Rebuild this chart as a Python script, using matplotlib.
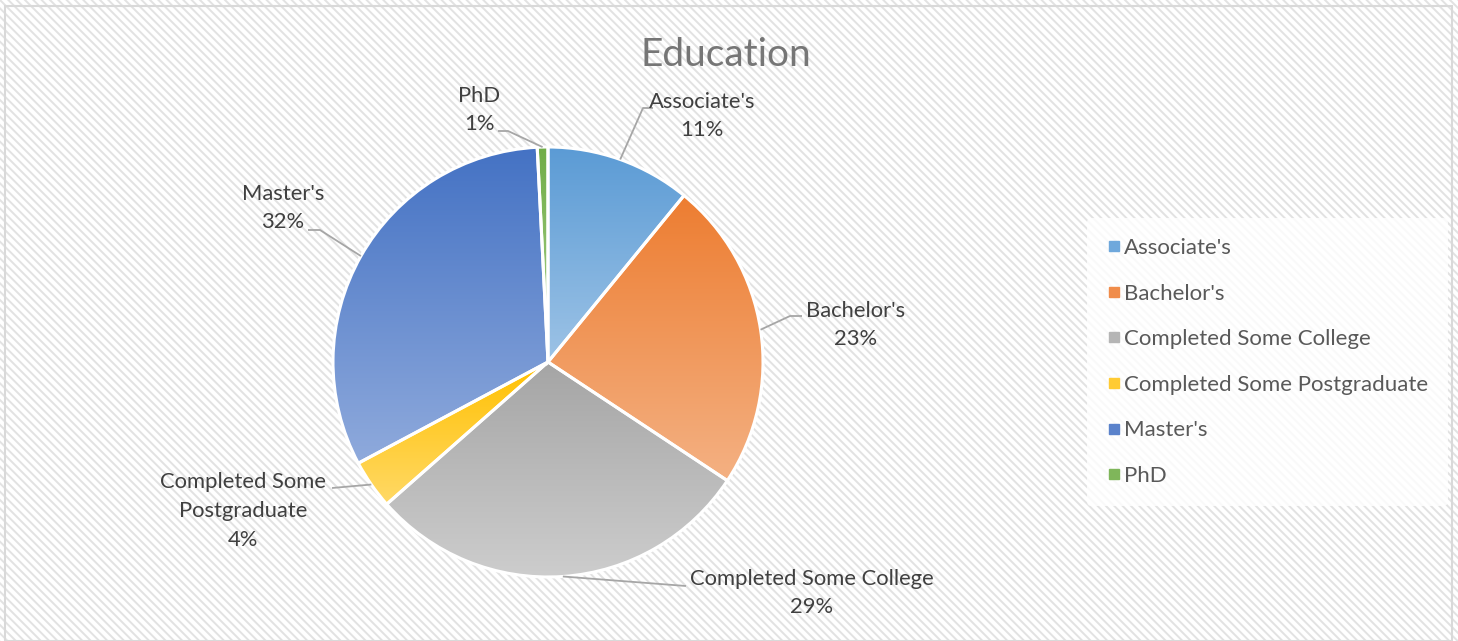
import numpy as np
import matplotlib.pyplot as plt
from matplotlib.colors import LinearSegmentedColormap
from matplotlib.patches import Rectangle
from matplotlib.lines import Line2D

plt.rcParams['font.family'] = ['Lato', 'DejaVu Sans']
plt.rcParams['hatch.linewidth'] = 1.4

# ---- data (share of respondents, %) ----
CATEGORIES = ["Associate's", "Bachelor's", "Completed Some College",
              "Completed Some Postgraduate", "Master's", "PhD"]
SHARES = [10.9, 23.4, 29.2, 3.7, 32.0, 0.8]
LABEL_NAMES = ["Associate's", "Bachelor's", "Completed Some College",
               "Completed Some\nPostgraduate", "Master's", "PhD"]

# gradient: top colour -> bottom colour per slice
TOP_COLORS = ["#5B9BD5", "#ED7D31", "#A5A5A5", "#FFC000", "#4472C4", "#70AD47"]
BOT_COLORS = ["#9DC3E6", "#F4B183", "#CDCDCD", "#FFD966", "#8FAADC", "#A9D18E"]
LEGEND_COLORS = ["#6FA8DC", "#F08C4A", "#B5B5B5", "#FFCB33", "#5A82CB", "#7FB65A"]

# ---- layout in pixels (origin top-left) ----
W, H = 1458, 641
CX, CY, R = 548, 362, 215
LABEL_POS = [(702, 116), (856, 325), (812, 593), (243, 511), (283, 208), (479, 110)]
LEADERS = [  # elbow points after the slice edge point
    [(643, 108), (653, 108)],
    [(790, 316), (802, 316)],
    [(686, 586)],
    [(332, 488)],
    [(320, 230), (308, 230)],
    [(508, 131), (498, 131)],
]

fig = plt.figure(figsize=(W / 100, H / 100), dpi=100)

# striped background
bg = fig.add_axes([0, 0, 1, 1])
bg.set_xlim(0, W)
bg.set_ylim(H, 0)
bg.axis("off")
bg.add_patch(Rectangle((0, 0), W, H, facecolor="white", edgecolor="#e2e2e2",
                       hatch="\\\\\\\\", lw=0))
bg.add_patch(Rectangle((5, 6), W - 11, H - 6, facecolor="none",
                       edgecolor="#d9d9d9", lw=1.5))

ax = fig.add_axes([0, 0, 1, 1])
ax.patch.set_alpha(0)
wedges, _ = ax.pie(SHARES, center=(CX, H - CY), radius=R, startangle=90,
                   counterclock=False,
                   wedgeprops=dict(edgecolor="white", linewidth=2.2))
ax.set_aspect("equal")
ax.axis("off")

grad = np.linspace(0, 1, 256).reshape(-1, 1)
for w, c0, c1 in zip(wedges, TOP_COLORS, BOT_COLORS):
    ext = w.get_path().get_extents()
    cmap = LinearSegmentedColormap.from_list("g", [c0, c1])
    im = ax.imshow(grad, cmap=cmap, aspect="auto", origin="upper",
                   extent=(ext.x0, ext.x1, ext.y0, ext.y1), zorder=0.5)
    im.set_clip_path(w)
    w.set_facecolor("none")
    w.set_zorder(1)
ax.set_xlim(0, W)
ax.set_ylim(0, H)

# data labels with leader lines
for w, name, share, (lx, ly), elbow in zip(wedges, LABEL_NAMES, SHARES,
                                          LABEL_POS, LEADERS):
    mid = np.deg2rad((w.theta1 + w.theta2) / 2)
    sx, sy = CX + R * np.cos(mid), CY - R * np.sin(mid)
    pts = [(sx, sy)] + elbow
    ax.plot([p[0] for p in pts], [H - p[1] for p in pts], color="#a6a6a6",
            lw=1.3, zorder=2, solid_capstyle="butt")
    ax.text(lx, H - ly, f"{name}\n{share:.0f}%", ha="center", va="center",
            multialignment="center", fontsize=15.8, color="#404040",
            linespacing=1.55, zorder=3)

ax.text(726, H - 55, "Education", ha="center", va="center", fontsize=28,
        color="#767676")

handles = [Line2D([], [], marker="s", ls="none", markersize=6.5,
                  markerfacecolor=c, markeredgecolor=c) for c in LEGEND_COLORS]
leg = ax.legend(handles, CATEGORIES, loc="center left",
                bbox_to_anchor=(1087, H - 362), bbox_transform=ax.transData,
                borderaxespad=0, fontsize=16, labelspacing=1.15,
                handletextpad=0.15, handlelength=0.6, borderpad=0.9,
                frameon=True)
leg.get_frame().set_facecolor("white")
leg.get_frame().set_alpha(0.8)
leg.get_frame().set_edgecolor("none")
for t in leg.get_texts():
    t.set_color("#595959")

fig.savefig("out.png", dpi=100)
